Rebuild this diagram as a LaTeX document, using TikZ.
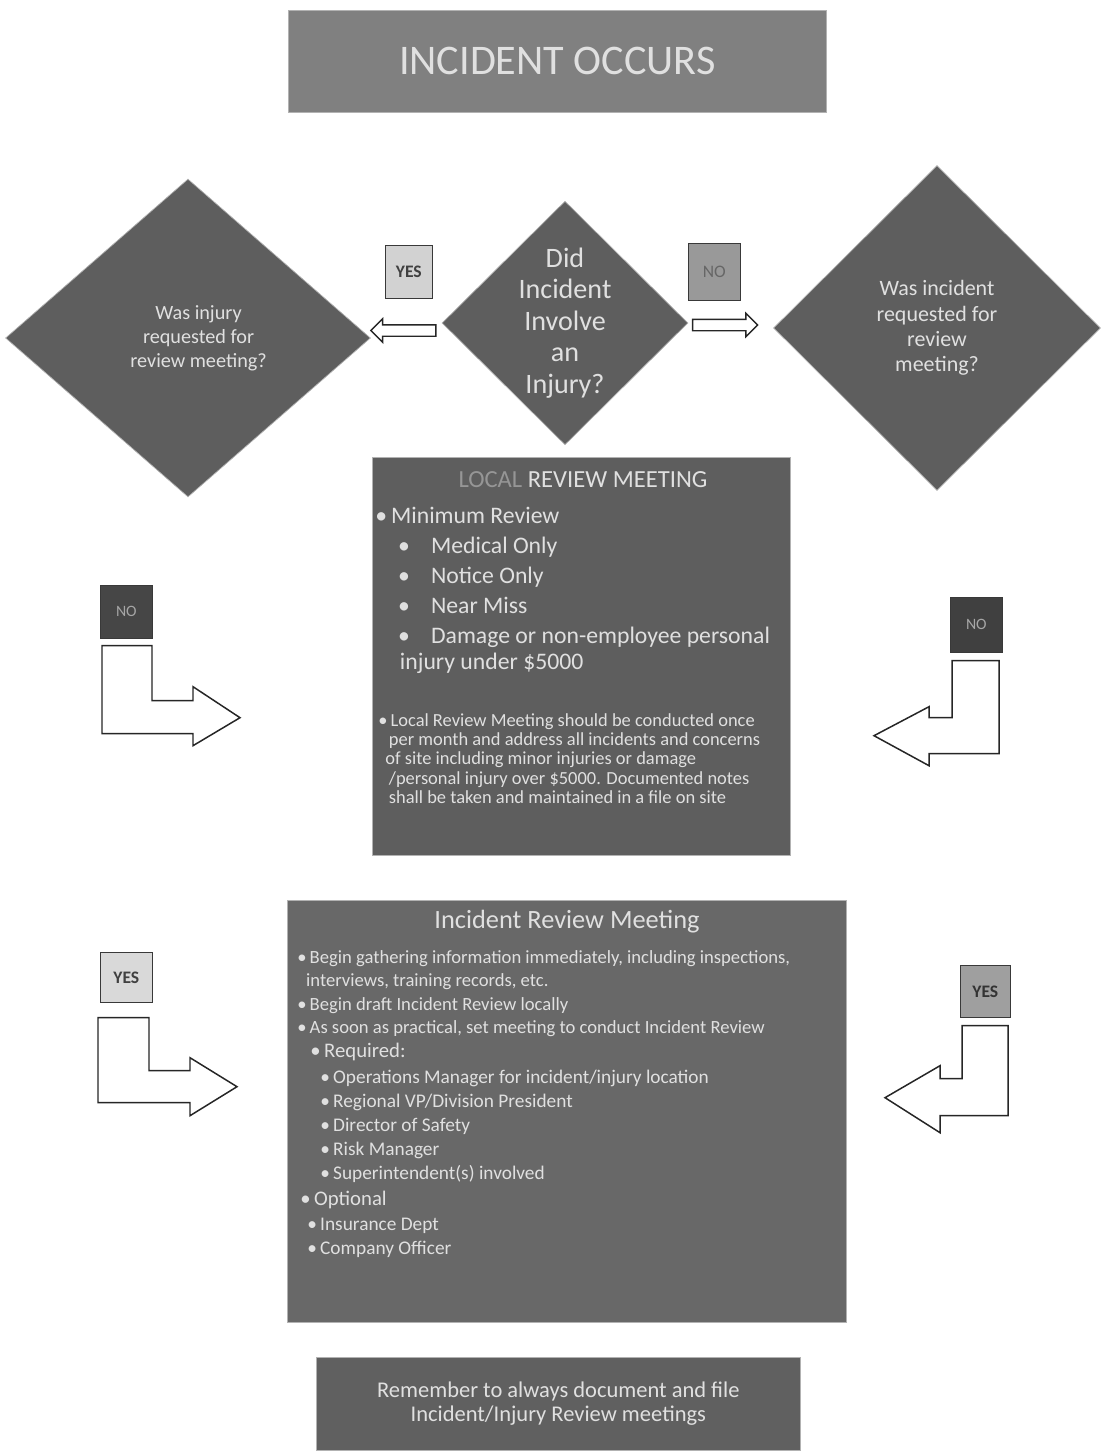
\documentclass[tikz,border=0pt]{standalone}
\usepackage{fontspec}
\setmainfont{Carlito}
\usetikzlibrary{positioning, shapes.geometric, shapes.arrows, calc}

\definecolor{panelgray}{RGB}{104,104,104}
\definecolor{titlegray}{RGB}{128,128,128}
\definecolor{diagray}{RGB}{94,94,94}
\definecolor{txtlight}{RGB}{224,224,224}
\definecolor{txtdim}{RGB}{150,150,150}

\begin{document}
\begin{tikzpicture}[x=0.02cm, y=-0.02cm,
  panel/.style={draw=gray!60, fill=panelgray, inner sep=0, anchor=north west},
  decision/.style={diamond, fill=diagray, draw=gray!60, text=txtlight, align=center, inner sep=0},
  tag/.style={draw=gray!45!black, inner sep=0, anchor=north west, font=\bfseries\fontsize{10}{12}\selectfont},
  hollow/.style={single arrow, draw=black!85, fill=white, line width=0.8pt, minimum width=0.44cm, minimum height=1.3cm, inner sep=0.1cm, single arrow head extend=0.12cm},
  elbow/.style={draw=black!85, fill=white, line width=0.85pt, line join=miter},
  txt/.style={text=txtlight, inner sep=0, align=left}]

% Manually size the picture
\useasboundingbox (0,0) rectangle (1102,1454);

% Start box
\node[panel, fill=titlegray, minimum width=10.76cm, minimum height=2.04cm] (title) at (288,10) {};
\node[txt, font=\fontsize{24}{28}\selectfont] (occurs) at (title.center) {INCIDENT OCCURS};

% Decisions
\node[decision, minimum width=4.92cm, minimum height=4.34cm, font=\fontsize{16}{18}\selectfont] (did) at (565,323)
  {Did\\Incident\\Involve\\an\\Injury?};
\node[decision, minimum width=7.3cm, minimum height=6.36cm, font=\fontsize{11.5}{13.6}\selectfont] (injq) at (188,338)
  {\hspace*{12pt}Was injury\\\hspace*{12pt}requested for\\\hspace*{12pt}review meeting?};
\node[decision, minimum width=6.54cm, minimum height=6.5cm, font=\fontsize{12.5}{14.5}\selectfont] (incq) at (937,328)
  {Was incident\\requested for\\review\\meeting?};

% Yes / no from the first question
\node[tag, fill=gray!35, text=black!75, minimum width=0.94cm, minimum height=1.06cm] (yestop) at (385,245) {YES};
\node[tag, fill=gray!80!white, text=gray!120, font=\fontsize{10}{12}\selectfont, minimum width=1.04cm, minimum height=1.14cm] (notop) at (688,243) {NO};
\node[hollow, shape border rotate=180] (toinj) at ($(injq.east)!0.5!(did.west)$) {};
\node[hollow] (toinc) at ($(did.east)!0.4!(incq.west)$) {};

% Local review meeting
\node[panel, fill=diagray, minimum width=8.36cm, minimum height=7.96cm] (local) at (372,457) {};
\node[txt, anchor=base, font=\fontsize{14}{17}\selectfont] (localhead) at (583,487)
  {{\color{txtdim}LOCAL} REVIEW MEETING};
\node[txt, anchor=north west, font=\fontsize{13.5}{17}\selectfont] (minlist) at (375,507)
  {•\,Minimum Review\\
   \hspace{13pt}•\hspace{12pt}Medical Only\\
   \hspace{13pt}•\hspace{12pt}Notice Only\\
   \hspace{13pt}•\hspace{12pt}Near Miss\\
   \hspace{13pt}•\hspace{12pt}Damage or non-employee personal\\[-2pt]
   \hspace{14pt}injury under \$5000};
\node[txt, anchor=north west, font=\fontsize{10.5}{11}\selectfont] (localnote) at (378,713)
  {•\,Local Review Meeting should be conducted once\\
   \hspace{6pt}per month and address all incidents and concerns\\
   \hspace{4pt}of site including minor injuries or damage\\
   \hspace{6pt}/personal injury over \$5000. Documented notes\\
   \hspace{6pt}shall be taken and maintained in a file on site};

% No arrows into the local meeting
\node[tag, fill=gray!55!black, text=gray!70, font=\fontsize{9}{11}\selectfont, minimum width=1.04cm, minimum height=1.06cm] (noleft) at (100,585) {NO};
\draw[elbow] ($(noleft.south west)+(2,7)$) -- ++(50,0) -- ++(0,55) -- ++(41,0) -- ++(0,-14)
  -- ++(47,31) -- ++(-47,28) -- ++(0,-12) -- ++(-91,0) -- cycle;
\node[tag, fill=gray!50!black, text=gray!70, font=\fontsize{9}{11}\selectfont, minimum width=1.04cm, minimum height=1.1cm] (noright) at (950,597) {NO};
\draw[elbow] ($(noright.south west)+(2,8)$) -- ++(47,0) -- ++(0,93) -- ++(-70,0) -- ++(0,12)
  -- ++(-55,-30) -- ++(55,-29) -- ++(0,11) -- ++(23,0) -- cycle;

% Incident review meeting
\node[panel, fill=panelgray, minimum width=11.18cm, minimum height=8.44cm] (review) at (287,900) {};
\node[txt, anchor=base, font=\fontsize{15}{18}\selectfont] (reviewhead) at (567,928) {Incident Review Meeting};
\node[txt, anchor=north west, font=\fontsize{10.6}{13.3}\selectfont] (gather) at (297,950)
  {•\,Begin gathering information immediately, including inspections,\\
   \hspace{5pt}interviews, training records, etc.\\
   •\,Begin draft Incident Review locally\\
   •\,As soon as practical, set meeting to conduct Incident Review};
\node[txt, anchor=base west, font=\fontsize{11.8}{15}\selectfont] (required) at (310,1057) {•\,Required:};
\node[txt, anchor=north west, font=\fontsize{11}{13.6}\selectfont] (reqlist) at (320,1070)
  {•\,Operations Manager for incident/injury location\\
   •\,Regional VP/Division President\\
   •\,Director of Safety\\
   •\,Risk Manager\\
   •\,Superintendent(s) involved};
\node[txt, anchor=base west, font=\fontsize{11.8}{15}\selectfont] (optional) at (300,1205) {•\,Optional};
\node[txt, anchor=north west, font=\fontsize{11}{13.6}\selectfont] (optlist) at (307,1218)
  {•\,Insurance Dept\\
   •\,Company Officer};

% Yes arrows into the incident review meeting
\node[tag, fill=gray!30, text=black!75, minimum width=1.04cm, minimum height=1cm] (yesleft) at (100,952) {YES};
\draw[elbow] ($(yesleft.south west)+(-2,15)$) -- ++(51,0) -- ++(0,53) -- ++(41,0) -- ++(0,-13)
  -- ++(47,29) -- ++(-47,29) -- ++(0,-13) -- ++(-92,0) -- cycle;
\node[tag, fill=gray!75!white, text=black!80, minimum width=1cm, minimum height=1.04cm] (yesright) at (960,965) {YES};
\draw[elbow] ($(yesright.south west)+(2,8)$) -- ++(46,0) -- ++(0,90) -- ++(-68,0) -- ++(0,17)
  -- ++(-55,-35) -- ++(55,-32) -- ++(0,13) -- ++(22,0) -- cycle;

% Reminder
\node[panel, fill=panelgray!105, minimum width=9.68cm, minimum height=1.86cm] (remind) at (316,1357) {};
\node[txt, align=center, font=\fontsize{12.8}{13.5}\selectfont] (remindtext) at (remind.center)
  {Remember to always document and file\\Incident/Injury Review meetings};

\end{tikzpicture}
\end{document}
